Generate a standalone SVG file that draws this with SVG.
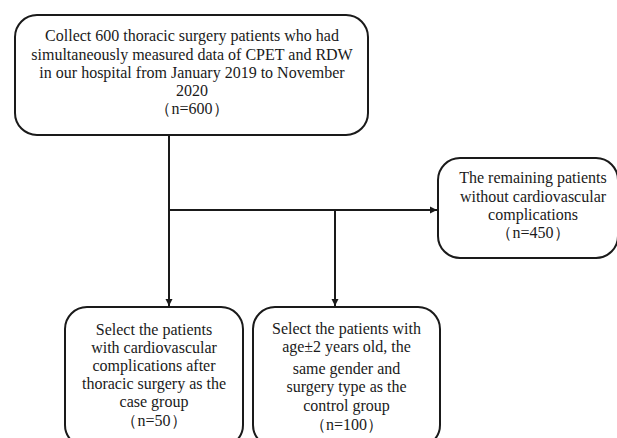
<svg xmlns="http://www.w3.org/2000/svg" width="617" height="438" viewBox="0 0 617 438">
<style>
.box{fill:#fff;stroke:#1a1a1a;stroke-width:2}
.t{font-family:"Liberation Serif","Times New Roman",serif;font-size:16px;fill:#1a1a1a;text-anchor:middle}
.c{stroke:#1a1a1a;stroke-width:2;fill:none}
</style>
<defs>
<marker id="ah" viewBox="0 0 10 10" refX="10" refY="5" markerWidth="3.6" markerHeight="3.6" orient="auto" markerUnits="strokeWidth">
<path d="M0,0 L10,5 L0,10 z" fill="#1a1a1a"/>
</marker>
</defs>
<rect width="617" height="438" fill="#fff"/>
<g id="connectors">
<line class="c" x1="169" y1="135" x2="169" y2="306" marker-end="url(#ah)"/>
<line class="c" x1="169" y1="210" x2="437" y2="210" marker-end="url(#ah)"/>
<line class="c" x1="335" y1="210" x2="335" y2="306" marker-end="url(#ah)"/>
</g>
<g id="node-collect">
<rect class="box" x="15" y="15" width="353" height="120" rx="22"/>
<text class="t" x="192" y="41">Collect 600 thoracic surgery patients who had</text>
<text class="t" x="192" y="59.5">simultaneously measured data of CPET and RDW</text>
<text class="t" x="192" y="77.5">in our hospital from January 2019 to November</text>
<text class="t" x="192" y="96">2020</text>
<text class="t" x="192" y="114">（n=600）</text>
</g>
<g id="node-remaining">
<rect class="box" x="438" y="158" width="180" height="100" rx="22"/>
<text class="t" x="533" y="183">The remaining patients</text>
<text class="t" x="533" y="202">without cardiovascular</text>
<text class="t" x="533" y="220">complications</text>
<text class="t" x="533" y="238">（n=450）</text>
</g>
<g id="node-case">
<rect class="box" x="65" y="307" width="178" height="140" rx="22"/>
<text class="t" x="154" y="335">Select the patients</text>
<text class="t" x="154" y="352.5">with cardiovascular</text>
<text class="t" x="154" y="371">complications after</text>
<text class="t" x="154" y="389">thoracic surgery as the</text>
<text class="t" x="154" y="407">case group</text>
<text class="t" x="154" y="426">（n=50）</text>
</g>
<g id="node-control">
<rect class="box" x="253" y="307" width="187" height="140" rx="22"/>
<text class="t" x="346.5" y="334">Select the patients with</text>
<text class="t" x="346.5" y="352">age±2 years old, the</text>
<text class="t" x="346.5" y="374">same gender and</text>
<text class="t" x="346.5" y="392">surgery type as the</text>
<text class="t" x="346.5" y="411">control group</text>
<text class="t" x="346.5" y="430">（n=100）</text>
</g>
</svg>
